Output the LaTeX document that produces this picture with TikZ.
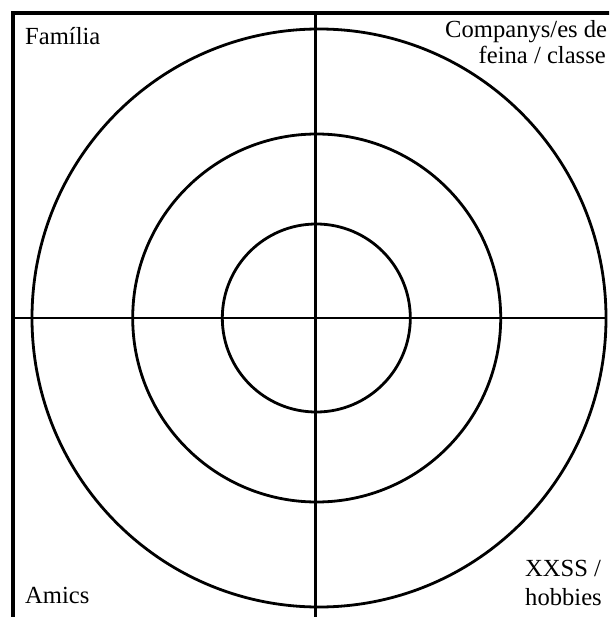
\documentclass[tikz,border=0pt]{standalone}
\usepackage{fontspec}
\setmainfont{Liberation Serif}
\begin{document}
\begin{tikzpicture}[x=1pt,y=-1pt,
  ring/.style={line width=2.8pt},
  lbl/.style={font=\fontsize{24.6}{28}\selectfont, inner sep=0pt, anchor=base west}]
\useasboundingbox (0,0) rectangle (609,617);
\clip (0,0) rectangle (609,617);
\fill[white] (0,0) rectangle (609,617);
% frame
\draw[line width=3.5pt] (13,640) -- (13,13) -- (640,13);
% circles
\draw[ring] (319,318) ellipse [x radius=287, y radius=289];
\draw[ring] (316.7,318) ellipse [x radius=184, y radius=184];
\draw[ring] (316.3,318) ellipse [x radius=94, y radius=94];
% axes
\coordinate (vtop) at (315.5,13);
\coordinate (vbot) at (315.5,640);
\coordinate (hl) at (13,318);
\coordinate (hr) at (606,318);
\draw[ring] (vtop) -- (vbot);
\draw[ring] (hl) -- (hr);
% labels
\node[lbl] (familia) at (25,44.3) {Família};
\node[lbl] (comp1) at (445,37.3) {Companys/es de};
\node[lbl] (comp2) at (478.5,64) {feina / classe};
\node[lbl] (amics) at (25,603.3) {Amics};
\node[lbl] (xxss1) at (525,576.7) {XXSS /};
\node[lbl] (xxss2) at (525,605) {hobbies};
\end{tikzpicture}
\end{document}
